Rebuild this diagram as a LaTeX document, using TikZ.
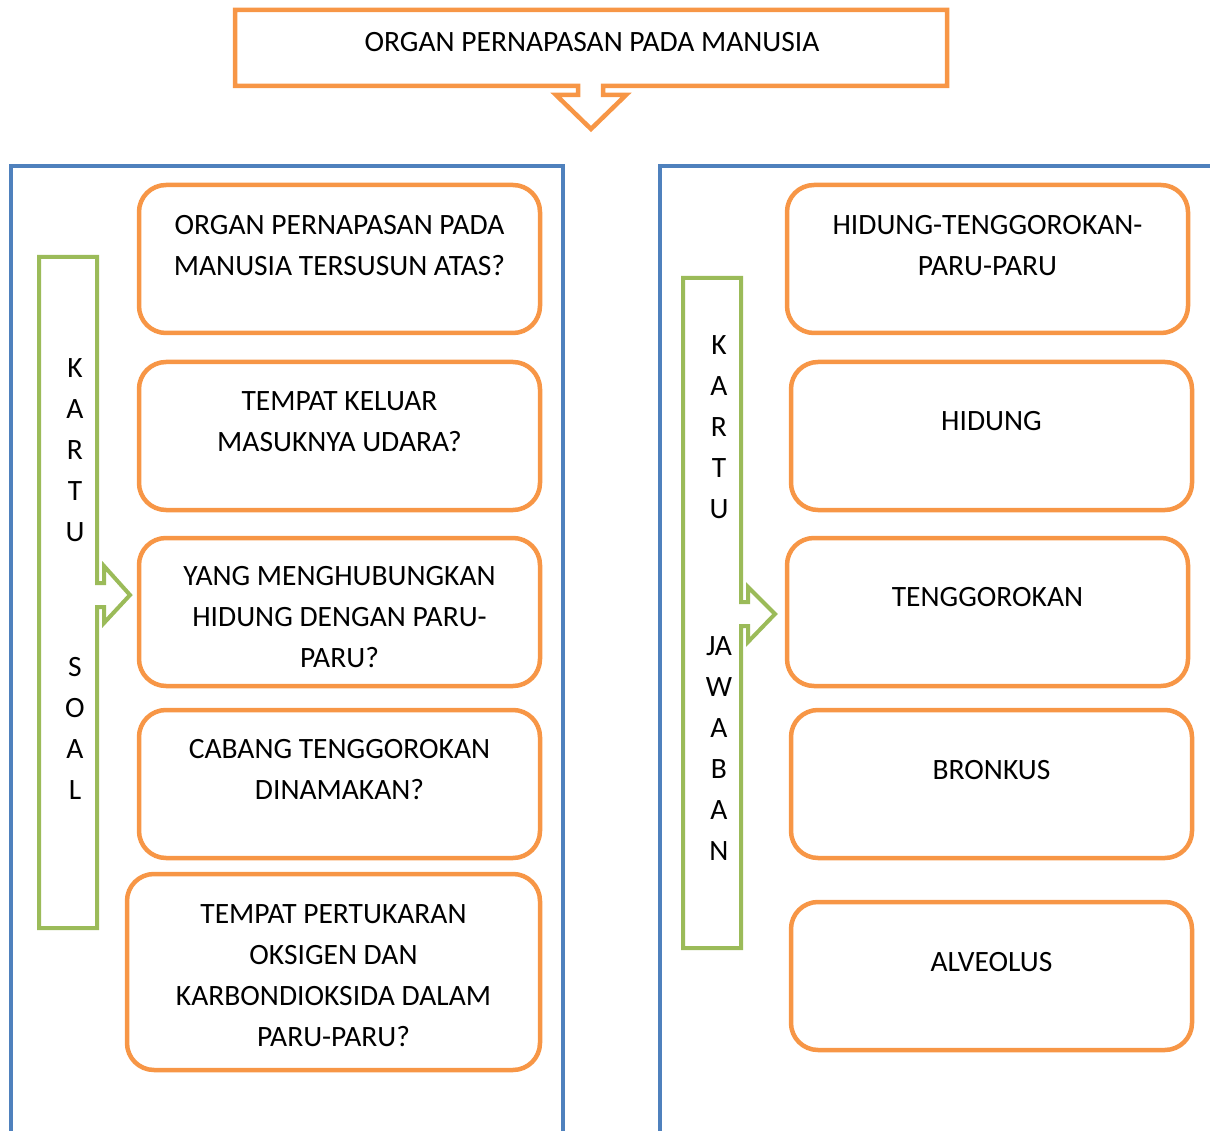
\documentclass[tikz,border=0pt]{standalone}
\usepackage{fontspec}
\setmainfont{Carlito}
\definecolor{obox}{HTML}{F79646}
\definecolor{bbox}{HTML}{4F81BD}
\definecolor{gbox}{HTML}{9BBB59}
\begin{document}
\begin{tikzpicture}[x=1pt,y=-1pt,
  qbox/.style={draw=obox, line width=4.5pt, rounded corners=27pt, inner sep=0pt},
  txt/.style={font=\fontsize{29.5}{41}\selectfont, align=center, inner sep=0pt, anchor=north},
  panel/.style={draw=bbox, line width=4.5pt},
  card/.style={draw=gbox, line width=4pt, line join=miter},
  callout/.style={draw=obox, line width=4.5pt, line join=miter}]
\useasboundingbox (0,0) rectangle (1210,1131);
\clip (0,0) rectangle (1210,1131);
% title callout
\draw[callout] (235,10) -- (947,10) -- (947,86) -- (603,86) -- (603,95) -- (626,95) -- (591,129) -- (556,95) -- (578,95) -- (578,86) -- (235,86) -- cycle;
\node[font=\fontsize{29.5}{41}\selectfont, inner sep=0pt] (title) at (592,42) {ORGAN PERNAPASAN PADA MANUSIA};
% blue panels
\draw[panel] (11,1150) -- (11,166) -- (563,166) -- (563,1150);
\draw[panel] (660,1150) -- (660,166) -- (1220,166);
% green cards
\draw[card] (39,257) -- (97,257) -- (97,583) -- (104,583) -- (104,566) -- (130,595) -- (104,623) -- (104,607) -- (97,607) -- (97,928) -- (39,928) -- cycle;
\draw[card] (683,278) -- (741,278) -- (741,602) -- (748,602) -- (748,587) -- (775,614) -- (748,642) -- (748,626) -- (741,626) -- (741,948) -- (683,948) -- cycle;
\node[txt] (ks1) at (75,358) {K\\A\\R\\T\\U};
\node[txt] (ks2) at (75,657) {S\\O\\A\\L};
\node[txt] (kj1) at (719,335) {K\\A\\R\\T\\U};
\node[txt] (kj2) at (719,636) {JA\\W\\A\\B\\A\\N};
% question boxes
\node[qbox, minimum width=401pt, minimum height=148pt] (l1) at (339.5,259) {};
\node[qbox, minimum width=401pt, minimum height=148pt] (l2) at (339.5,436) {};
\node[qbox, minimum width=401pt, minimum height=148pt] (l3) at (339.5,612) {};
\node[qbox, minimum width=401pt, minimum height=148pt] (l4) at (339.5,784) {};
\node[qbox, minimum width=413pt, minimum height=196pt] (l5) at (333.5,972) {};
\node[txt] (l1t) at ([yshift=-32pt]l1.north) {ORGAN PERNAPASAN PADA\\MANUSIA TERSUSUN ATAS?};
\node[txt] (l2t) at ([yshift=-32pt]l2.north) {TEMPAT KELUAR\\MASUKNYA UDARA?};
\node[txt] (l3t) at ([yshift=-30pt]l3.north) {YANG MENGHUBUNGKAN\\HIDUNG DENGAN PARU-\\PARU?};
\node[txt] (l4t) at ([yshift=-31pt]l4.north) {CABANG TENGGOROKAN\\DINAMAKAN?};
\node[txt] (l5t) at ([yshift=-33pt]l5.north) {TEMPAT PERTUKARAN\\OKSIGEN DAN\\KARBONDIOKSIDA DALAM\\PARU-PARU?};
% answer boxes
\node[qbox, minimum width=401pt, minimum height=148pt] (r1) at (987.5,259) {};
\node[qbox, minimum width=401pt, minimum height=148pt] (r2) at (991.5,436) {};
\node[qbox, minimum width=401pt, minimum height=148pt] (r3) at (987.5,612) {};
\node[qbox, minimum width=401pt, minimum height=148pt] (r4) at (991.5,784) {};
\node[qbox, minimum width=401pt, minimum height=148pt] (r5) at (991.5,976) {};
\node[txt] (r1t) at ([yshift=-32pt]r1.north) {HIDUNG-TENGGOROKAN-\\PARU-PARU};
\node[txt] (r2t) at ([yshift=-51pt]r2.north) {HIDUNG};
\node[txt] (r3t) at ([yshift=-51pt]r3.north) {TENGGOROKAN};
\node[txt] (r4t) at ([yshift=-52pt]r4.north) {BRONKUS};
\node[txt] (r5t) at ([yshift=-52pt]r5.north) {ALVEOLUS};
\end{tikzpicture}
\end{document}
